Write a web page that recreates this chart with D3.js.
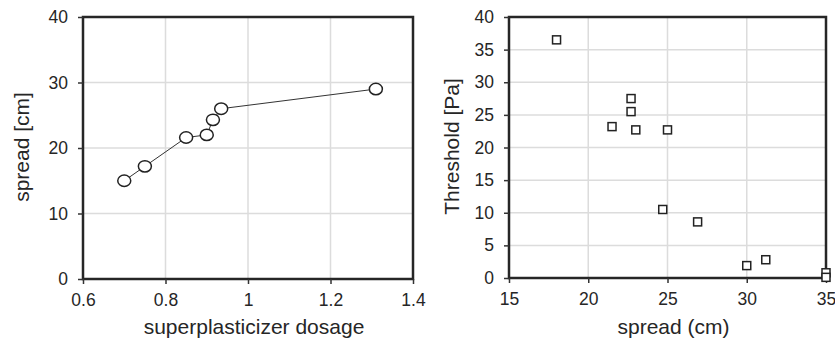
<!DOCTYPE html>
<html>
<head>
<meta charset="utf-8">
<script src="https://cdn.jsdelivr.net/npm/d3@7"></script>
<style>
  body { margin: 0; background: #fff; }
  text { font-family: "Liberation Sans", Arial, sans-serif; fill: #262626; }
</style>
</head>
<body>
<div id="chart"></div>
<script>
// left panel: spread vs superplasticizer dosage
const dosage = [0.70, 0.75, 0.85, 0.90, 0.915, 0.935, 1.31];
const spreadA = [15.0, 17.2, 21.6, 22.0, 24.3, 26.0, 29.0];
const xTicksA = [0.6, 0.8, 1, 1.2, 1.4];
const yTicksA = [0, 10, 20, 30, 40];

// right panel: threshold vs spread
const spreadB = [18.0, 21.5, 22.7, 22.7, 23.0, 25.0, 24.7, 26.9, 30.0, 31.2, 35.0, 35.0];
const threshold = [36.5, 23.2, 27.5, 25.5, 22.7, 22.7, 10.5, 8.6, 1.9, 2.8, 0.8, 0.1];
const xTicksB = [15, 20, 25, 30, 35];
const yTicksB = [0, 5, 10, 15, 20, 25, 30, 35, 40];

const svg = d3.select('#chart')
  .append('svg')
  .attr('width', 835)
  .attr('height', 339);

// Draw grid, frame, ticks and titles for one panel
function panel(x, y, xTicks, yTicks, xTitle, yTitle, yTitleX) {
  const g = svg.append('g');
  const [x0, x1] = x.range();
  const [y0, y1] = y.range();

  g.selectAll('.vgrid')
    .data(xTicks)
    .enter()
    .append('line')
    .attr('x1', d => x(d)).attr('x2', d => x(d))
    .attr('y1', y0).attr('y2', y1)
    .attr('stroke', '#dcdcdc')
    .attr('stroke-width', 1.5);

  g.selectAll('.hgrid')
    .data(yTicks)
    .enter()
    .append('line')
    .attr('x1', x0).attr('x2', x1)
    .attr('y1', d => y(d)).attr('y2', d => y(d))
    .attr('stroke', '#dcdcdc')
    .attr('stroke-width', 1.5);

  g.append('rect')
    .attr('x', x0).attr('y', y1)
    .attr('width', x1 - x0).attr('height', y0 - y1)
    .attr('fill', 'none')
    .attr('stroke', '#262626')
    .attr('stroke-width', 2.5);

  const ax = g.append('g')
    .attr('transform', `translate(0,${y0})`)
    .call(d3.axisBottom(x).tickValues(xTicks).tickFormat(d => String(d)).tickSize(5).tickPadding(10));
  const ay = g.append('g')
    .attr('transform', `translate(${x0},0)`)
    .call(d3.axisLeft(y).tickValues(yTicks).tickFormat(d => String(d)).tickSize(5).tickPadding(10));

  [ax, ay].forEach(a => {
    a.select('.domain').remove();
    a.selectAll('line').attr('stroke', '#333').attr('stroke-width', 1.5);
    a.selectAll('text').attr('font-size', 17.5).attr('fill', '#262626')
      .style('font-family', '"Liberation Sans", Arial, sans-serif');
  });

  g.append('text')
    .attr('x', (x0 + x1) / 2 + 6)
    .attr('y', 334)
    .attr('text-anchor', 'middle')
    .attr('font-size', 21)
    .text(xTitle);

  g.append('text')
    .attr('transform', `translate(${yTitleX},${(y0 + y1) / 2 - 1}) rotate(-90)`)
    .attr('text-anchor', 'middle')
    .attr('font-size', 21)
    .text(yTitle);
}

// left chart
const xA = d3.scaleLinear().domain([0.6, 1.4]).range([83, 413]);
const yA = d3.scaleLinear().domain([0, 40]).range([279, 17]);
panel(xA, yA, xTicksA, yTicksA, 'superplasticizer dosage', 'spread [cm]', 29);

const ptsA = dosage.map((d, i) => [d, spreadA[i]]);
svg.append('path')
  .datum(ptsA)
  .attr('d', d3.line().x(d => xA(d[0])).y(d => yA(d[1])))
  .attr('fill', 'none')
  .attr('stroke', '#333')
  .attr('stroke-width', 1);

svg.selectAll('.ell')
  .data(ptsA)
  .enter()
  .append('ellipse')
  .attr('cx', d => xA(d[0]))
  .attr('cy', d => yA(d[1]))
  .attr('rx', 6.5)
  .attr('ry', 5.7)
  .attr('fill', '#fff')
  .attr('stroke', '#222')
  .attr('stroke-width', 1.5);

// right chart
const xB = d3.scaleLinear().domain([15, 35]).range([509, 826]);
const yB = d3.scaleLinear().domain([0, 40]).range([278, 17]);
panel(xB, yB, xTicksB, yTicksB, 'spread (cm)', 'Threshold [Pa]', 459);

const ptsB = spreadB.map((d, i) => [d, threshold[i]]);
svg.selectAll('.sq')
  .data(ptsB)
  .enter()
  .append('rect')
  .attr('x', d => xB(d[0]) - 4)
  .attr('y', d => yB(d[1]) - 4)
  .attr('width', 8)
  .attr('height', 8)
  .attr('fill', '#fff')
  .attr('stroke', '#222')
  .attr('stroke-width', 1.5);
</script>
</body>
</html>
